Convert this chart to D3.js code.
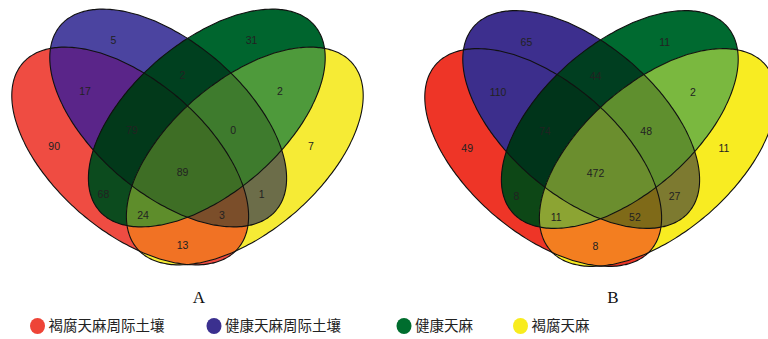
<!DOCTYPE html>
<html>
<head>
<meta charset="utf-8">
<script src="https://cdn.jsdelivr.net/npm/d3@7"></script>
<style>
  body { margin: 0; background: #fff; }
  svg { display: block; }
</style>
</head>
<body>
<div id="venn"></div>
<script>
// Set names (legend) and panel titles
const setNames = ["褐腐天麻周际土壤", "健康天麻周际土壤", "健康天麻", "褐腐天麻"];
const panelNames = ["A", "B"];

// Region keys: which sets (1..4) each region belongs to
const regionKeys = ["1", "2", "3", "4", "12", "13", "14", "23", "24", "34",
                    "123", "124", "134", "234", "1234"];

// Counts for each region, same order as regionKeys
const countsA = [90, 5, 31, 7, 17, 68, 13, 2, 1, 2, 79, 3, 24, 0, 89];
const countsB = [49, 65, 11, 11, 110, 8, 8, 44, 27, 2, 74, 52, 11, 48, 472];

// ---- layout / style ----
const width = 768, height = 339;
const legendColors = ["#EE4437", "#3B308F", "#006D2E", "#F8EC1E"];
const labelShift = { dx: -5, dy: 4 };   // count labels sit a little left/below the region centre

// region fill colours per panel (blended look of the original)
const fillsA = {
  "1": "#EF4C42", "2": "#4B44A0", "3": "#00652E", "4": "#F6EB35",
  "12": "#5A2589", "13": "#0C4B1E", "14": "#F17224", "23": "#00401F",
  "24": "#6C6D49", "34": "#4E9A3B", "123": "#02391A", "124": "#7B4E2A",
  "134": "#5E8D2B", "234": "#3E7B2D", "1234": "#3E6E25"
};
const fillsB = {
  "1": "#EE3527", "2": "#3D2F8E", "3": "#006A30", "4": "#F8EC22",
  "12": "#3C2E8C", "13": "#0D4716", "14": "#F37E20", "23": "#003E20",
  "24": "#7D7A30", "34": "#7AB83F", "123": "#00341A", "124": "#7F6A18",
  "134": "#8CA433", "234": "#5F8F2E", "1234": "#6B8E2E"
};

// ellipse geometry in a unit space (1 unit = 400 px)
const A = 0.355, B = 0.189, TH = 40.7 * Math.PI / 180;
const ellipses = [
  { cx: 0.35675, cy: 0.390, th:  TH },  // set 1 (red)
  { cx: 0.45175, cy: 0.295, th:  TH },  // set 2 (blue)
  { cx: 0.54825, cy: 0.295, th: -TH },  // set 3 (green)
  { cx: 0.64325, cy: 0.390, th: -TH }   // set 4 (yellow)
];

const panels = [
  { name: panelNames[0], counts: countsA, fills: fillsA, x0: -12.5, y0: 0,   titleX: 199 },
  { name: panelNames[1], counts: countsB, fills: fillsB, x0: 400.5, y0: 1.5, titleX: 613 }
];

function inside(e, x, y) {
  const dx = x - e.cx, dy = y - e.cy;
  const c = Math.cos(e.th), s = Math.sin(e.th);
  const u = dx * c + dy * s, v = -dx * s + dy * c;
  return (u / A) * (u / A) + (v / B) * (v / B) <= 1;
}

function ellipsePoints(e) {
  const c = Math.cos(e.th), s = Math.sin(e.th);
  return d3.range(0, 360, 2).map(function(deg) {
    const t = deg * Math.PI / 180;
    return [e.cx + A * Math.cos(t) * c - B * Math.sin(t) * s,
            e.cy + A * Math.cos(t) * s + B * Math.sin(t) * c];
  });
}

// label anchors: centroid of each region, found on a grid
function labelAnchors() {
  const step = 1 / 400, acc = {};
  for (let j = 0; j < 280; j++) for (let i = 0; i < 400; i++) {
    const x = i * step, y = j * step;
    let m = 0;
    ellipses.forEach(function(e, k) { if (inside(e, x, y)) m |= (1 << k); });
    if (!m) continue;
    const a = acc[m] || (acc[m] = { n: 0, sx: 0, sy: 0 });
    a.n++; a.sx += x; a.sy += y;
  }
  const out = {};
  Object.keys(acc).forEach(function(m) { out[m] = { x: acc[m].sx / acc[m].n, y: acc[m].sy / acc[m].n }; });
  return out;
}
const anchors = labelAnchors();
const maskOf = key => key.split("").reduce((m, ch) => m | (1 << (+ch - 1)), 0);

const svg = d3.select("#venn").append("svg")
  .attr("width", width)
  .attr("height", height);
const defs = svg.append("defs");

panels.forEach(function(panel, pi) {
  const x = d3.scaleLinear().domain([0, 1]).range([panel.x0, panel.x0 + 400]);
  const y = d3.scaleLinear().domain([0, 1]).range([panel.y0, panel.y0 + 400]);
  const line = d3.line().x(d => x(d[0])).y(d => y(d[1])).curve(d3.curveCardinalClosed);

  ellipses.forEach(function(e, k) {
    defs.append("clipPath").attr("id", "clip" + pi + "_" + k)
      .append("path").attr("d", line(ellipsePoints(e)));
  });

  const g = svg.append("g");

  // fill each region: intersections drawn from fewer sets to more sets
  regionKeys.slice().sort((a, b) => a.length - b.length).forEach(function(key) {
    let host = g;
    key.split("").forEach(function(ch) {
      host = host.append("g").attr("clip-path", "url(#clip" + pi + "_" + (+ch - 1) + ")");
    });
    host.append("rect")
      .attr("x", x(0)).attr("y", y(0))
      .attr("width", 400).attr("height", 300)
      .attr("fill", panel.fills[key]);
  });

  // outlines
  g.selectAll("path.outline")
    .data(ellipses)
    .join("path")
    .attr("class", "outline")
    .attr("d", e => line(ellipsePoints(e)))
    .attr("fill", "none")
    .attr("stroke", "#111")
    .attr("stroke-width", 1.1);

  // counts
  g.selectAll("text.count")
    .data(regionKeys.map((key, i) => ({ key: key, value: panel.counts[i] })))
    .join("text")
    .attr("class", "count")
    .attr("x", d => x(anchors[maskOf(d.key)].x) + labelShift.dx)
    .attr("y", d => y(anchors[maskOf(d.key)].y) + labelShift.dy)
    .attr("dy", "0.35em")
    .attr("text-anchor", "middle")
    .style("font-family", "'Liberation Sans', Arial, sans-serif")
    .style("font-size", "10.5px")
    .style("fill", "#222")
    .text(d => d.value);

  // panel title
  svg.append("text")
    .attr("x", panel.titleX)
    .attr("y", 303)
    .attr("text-anchor", "middle")
    .style("font-family", "'Liberation Serif', 'Times New Roman', serif")
    .style("font-size", "17px")
    .style("fill", "#111")
    .text(panel.name);
});

// legend
const legendX = [37.5, 214, 404, 520.5];
const legend = svg.append("g")
  .selectAll("g")
  .data(setNames)
  .join("g")
  .attr("transform", (d, i) => `translate(${legendX[i]}, 326)`);
legend.append("ellipse")
  .attr("rx", 7.5).attr("ry", 8)
  .attr("fill", (d, i) => legendColors[i]);
legend.append("text")
  .attr("x", 11)
  .attr("dy", "0.36em")
  .style("font-family", "'Noto Sans CJK SC', sans-serif")
  .style("font-size", "14.5px")
  .style("fill", "#222")
  .text(d => d);
</script>
</body>
</html>
